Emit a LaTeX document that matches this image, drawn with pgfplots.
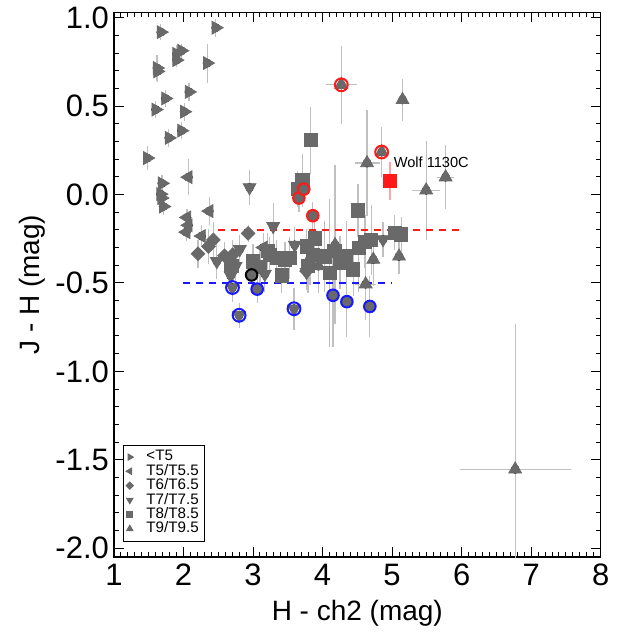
\documentclass[border=0pt]{standalone}
\usepackage{fontspec}
\setmainfont{Liberation Sans}
\usepackage{pgfplots}
\usepackage{pgfplotstable}
\pgfplotsset{compat=1.18}
\definecolor{mk}{RGB}{105,105,105}
\definecolor{eb}{RGB}{192,192,192}
\definecolor{rd}{RGB}{255,25,25}
\definecolor{bl}{RGB}{25,25,255}

% x y ex ey
\pgfplotstableread{
x y ex ey
1.675 0.918 0.03 0.045
2.465 0.943 0.03 0.05
1.97 0.813 0.03 0.04
1.90 0.795 0.03 0.05
1.90 0.76 0.03 0.04
2.34 0.743 0.03 0.11
1.62 0.715 0.03 0.075
1.625 0.696 0.03 0.06
2.08 0.58 0.03 0.05
1.74 0.543 0.03 0.05
1.60 0.48 0.03 0.05
2.01 0.468 0.03 0.05
1.97 0.361 0.03 0.05
1.79 0.32 0.03 0.05
1.48 0.206 0.03 0.07
1.69 0.063 0.03 0.05
1.67 0.002 0.03 0.05
1.685 -0.02 0.03 0.04
1.71 -0.068 0.03 0.05
}\tFive
\pgfplotstableread{
x y ex ey
2.07 0.098 0.03 0.1
2.37 -0.094 0.03 0.08
2.05 -0.13 0.03 0.05
2.07 -0.174 0.03 0.05
2.04 -0.213 0.03 0.05
2.26 -0.235 0.03 0.06
3.15 -0.30 0.05 0.08
}\tSix
\pgfplotstableread{
x y ex ey
2.93 -0.22 0.03 0.05
2.43 -0.257 0.03 0.1
2.36 -0.294 0.03 0.1
2.21 -0.335 0.03 0.08
2.59 -0.346 0.03 0.08
2.71 -0.34 0.03 0.08
3.77 -0.433 0.05 0.1
}\tSeven
\pgfplotstableread{
x y ex ey
2.95 0.04 0.03 0.1
3.29 -0.18 0.03 0.13
2.48 -0.378 0.03 0.1
2.81 -0.31 0.03 0.08
2.68 -0.46 0.03 0.1
2.67 -0.396 0.03 0.08
2.75 -0.405 0.03 0.08
3.60 -0.285 0.03 0.1
3.17 -0.45 0.03 0.1
3.77 -0.44 0.05 0.1
4.87 -0.254 0.05 0.1
2.705 -0.526 0.03 0.08
2.80 -0.683 0.03 0.07
3.59 -0.646 0.03 0.12
}\tEight
\pgfplotstableread{
x y ex ey
3.83 0.307 0.08 0.19
3.71 0.08 0.05 0.15
3.64 0.03 0.05 0.1
4.51 -0.09 0.08 0.15
5.04 -0.215 0.05 0.1
5.13 -0.226 0.05 0.1
3.89 -0.248 0.05 0.15
3.77 -0.294 0.05 0.1
3.46 -0.37 0.05 0.1
3.53 -0.36 0.05 0.12
3.24 -0.34 0.05 0.1
3.21 -0.32 0.05 0.1
3.00 -0.378 0.05 0.1
2.69 -0.405 0.05 0.1
3.10 -0.41 0.05 0.1
3.34 -0.36 0.05 0.1
3.41 -0.457 0.05 0.1
3.79 -0.405 0.05 0.15
3.86 -0.34 0.05 0.1
4.03 -0.35 0.05 0.2
4.10 -0.443 0.05 0.42
4.17 -0.32 0.05 0.15
4.25 -0.387 0.05 0.15
4.34 -0.35 0.05 0.2
4.44 -0.424 0.05 0.15
4.52 -0.30 0.05 0.25
4.61 -0.267 0.05 0.15
4.70 -0.257 0.05 0.2
}\tNine
\pgfplotstableread{
x y ex ey
4.27 0.62 0.22 0.22
5.15 0.535 0.03 0.12
4.85 0.24 0.05 0.14
4.64 0.178 0.18 0.3
5.49 0.024 0.2 0.28
5.77 0.098 0.12 0.18
4.18 -0.285 0.05 0.45
3.94 -0.405 0.05 0.15
3.82 -0.36 0.05 0.15
4.73 -0.368 0.05 0.15
5.10 -0.35 0.05 0.1
4.62 -0.507 0.15 0.2
6.77 -1.554 0.8 0.82
}\tTen
% ringed objects
\pgfplotstableread{
x y ex ey
3.06 -0.535 0.03 0.08
4.15 -0.57 0.05 0.29
4.35 -0.606 0.05 0.2
4.68 -0.633 0.1 0.17
}\tBlueFill
\pgfplotstableread{
x y ex ey
3.66 -0.02 0.03 0.08
3.73 0.03 0.03 0.08
3.86 -0.12 0.03 0.08
}\tRedFill
\pgfplotstableread{
x y ex ey
2.98 -0.455 0.05 0.1
}\tBlackFill

\pgfplotsset{
  ebar/.style={only marks, mark=none, forget plot,
    error bars/.cd, x dir=both, x explicit, y dir=both, y explicit,
    error mark=none, error bar style={eb, line width=0.6pt}},
  pts/.style 2 args={only marks, mark size=#1,
    legend image code/.code={\draw[##1, mark size=#2] plot coordinates {(0.05cm,0cm)};
      \path[draw=none, fill=none] (0cm,0cm) rectangle (0.3cm,0cm);}},
}

\begin{document}
\begin{tikzpicture}
\begin{axis}[
  scale only axis, width=243.5pt, height=272.5pt,
  xmin=1, xmax=8, ymin=-2.05, ymax=1.03,
  xtick={1,...,8}, ytick={-2,-1.5,...,1},
  minor x tick num=9, minor y tick num=4,
  tick align=inside, major tick length=5pt, minor tick length=2.5pt,
  tick style={black, line width=0.5pt},
  axis line style={line width=0.6pt},
  /pgf/number format/assume math mode=true,
  tick label style={font=\fontsize{15.5}{17}\selectfont},
  yticklabel style={xshift=1pt, /pgf/number format/.cd, fixed, fixed zerofill, precision=1},
  label style={font=\fontsize{14}{16}\selectfont},
  xlabel={H - ch2 (mag)}, ylabel={J - H (mag)},
  ylabel style={yshift=-2pt},
  legend style={at={(0.018,0.028)}, anchor=south west,
    font=\fontsize{7.6}{8}\selectfont, draw=black, line width=0.5pt,
    inner sep=1.5pt, row sep=-2.2pt, nodes={inner sep=1.2pt}},
  legend cell align=left,
]
% error bars first
\addplot[ebar] table[x error=ex, y error=ey] {\tFive};
\addplot[ebar] table[x error=ex, y error=ey] {\tSix};
\addplot[ebar] table[x error=ex, y error=ey] {\tSeven};
\addplot[ebar] table[x error=ex, y error=ey] {\tEight};
\addplot[ebar] table[x error=ex, y error=ey] {\tNine};
\addplot[ebar] table[x error=ex, y error=ey] {\tTen};
\addplot[ebar] table[x error=ex, y error=ey] {\tBlueFill};
\addplot[ebar] table[x error=ex, y error=ey] {\tRedFill};
\addplot[ebar] table[x error=ex, y error=ey] {\tBlackFill};
\addplot[only marks, mark=none, forget plot,
  error bars/.cd, y dir=both, y explicit, error mark=none,
  error bar style={rd!40, line width=0.6pt}]
  coordinates {(4.97,0.076) +- (0,0.11)};
% dividing lines
\addplot[forget plot, rd, line width=0.9pt, dash pattern=on 3.5pt off 3pt]
  coordinates {(2.5,-0.2) (6.0,-0.2)};
\addplot[forget plot, bl, line width=0.9pt, dash pattern=on 3.5pt off 3pt]
  coordinates {(2.0,-0.5) (5.0,-0.5)};
% markers
\addplot[pts={3.7pt}{1.8pt}, mark=triangle*, mark options={rotate=-90, fill=mk, draw=mk}]
  table {\tFive};
\addlegendentry{<T5}
\addplot[pts={3.7pt}{1.8pt}, mark=triangle*, mark options={rotate=90, fill=mk, draw=mk}]
  table {\tSix};
\addlegendentry{T5/T5.5}
\addplot[pts={2.4pt}{1.25pt}, mark=square*, mark options={rotate=45, fill=mk, draw=mk}]
  table {\tSeven};
\addlegendentry{T6/T6.5}
\addplot[pts={3.7pt}{1.8pt}, mark=triangle*, mark options={rotate=180, fill=mk, draw=mk}]
  table {\tEight};
\addlegendentry{T7/T7.5}
\addplot[pts={3.3pt}{1.5pt}, mark=square*, mark options={fill=mk, draw=mk}]
  table {\tNine};
\addlegendentry{T8/T8.5}
\addplot[pts={3.7pt}{1.8pt}, mark=triangle*, mark options={fill=mk, draw=mk}]
  table {\tTen};
\addlegendentry{T9/T9.5}
% ringed objects
\addplot[only marks, forget plot, mark=*, mark size=2.9pt,
  mark options={fill=mk, draw=bl, line width=1pt}] table {\tBlueFill};
\addplot[only marks, forget plot, mark=*, mark size=2.9pt,
  mark options={fill=mk, draw=rd, line width=1pt}] table {\tRedFill};
\addplot[only marks, forget plot, mark=*, mark size=2.9pt,
  mark options={fill=mk, draw=black, line width=1pt}] table {\tBlackFill};
\addplot[only marks, forget plot, mark=o, mark size=3.2pt,
  mark options={draw=bl, line width=1pt}]
  coordinates {(2.705,-0.526) (2.80,-0.683) (3.59,-0.646)};
\addplot[only marks, forget plot, mark=o, mark size=3.2pt,
  mark options={draw=rd, line width=1pt}]
  coordinates {(4.27,0.62) (4.85,0.24)};
\addplot[only marks, forget plot, mark=square*, mark size=3.2pt,
  mark options={fill=rd, draw=rd}]
  coordinates {(4.97,0.076)};
\node[anchor=west, font=\fontsize{7.3}{8}\selectfont, inner sep=0pt]
  at (axis cs:5.02,0.182) {Wolf 1130C};
\end{axis}
\path (-57pt,-39pt) rectangle (254.5pt,278.5pt);
\end{tikzpicture}
\end{document}
